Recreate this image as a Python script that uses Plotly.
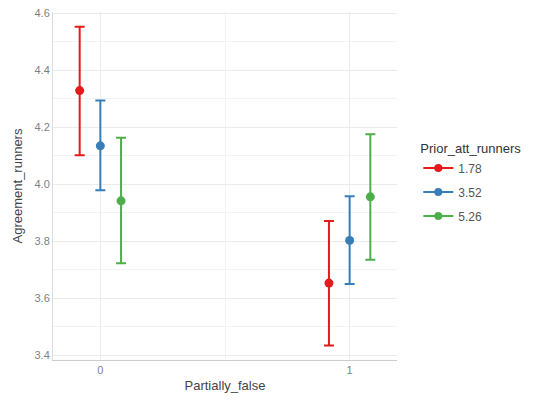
import plotly.graph_objects as go

groups = [0, 1]
levels = ["1.78", "3.52", "5.26"]
colors = ["#E41A1C", "#377EB8", "#4DAF4A"]
means = {"1.78": [4.329, 3.653], "3.52": [4.135, 3.803], "5.26": [3.942, 3.956]}
upper = {"1.78": [4.553, 3.871], "3.52": [4.294, 3.958], "5.26": [4.163, 4.176]}
lower = {"1.78": [4.102, 3.434], "3.52": [3.979, 3.650], "5.26": [3.723, 3.735]}
offsets = [-0.083, 0.0, 0.083]

fig = go.Figure()
for lev, col, off in zip(levels, colors, offsets):
    xs = [g + off for g in groups]
    m = means[lev]
    up = [u - v for u, v in zip(upper[lev], m)]
    dn = [v - l for l, v in zip(lower[lev], m)]
    fig.add_trace(go.Scatter(
        x=xs, y=m, mode="markers", showlegend=False, legendgroup=lev,
        marker=dict(color=col, size=9),
        error_y=dict(type="data", symmetric=False, array=up, arrayminus=dn,
                     color=col, thickness=2, width=5),
    ))
    fig.add_trace(go.Scatter(
        x=[None], y=[None], mode="lines+markers", name=lev, legendgroup=lev,
        marker=dict(color=col, size=8), line=dict(color=col, width=2),
    ))

# page body has an 8px margin, so the figure is 8px smaller and margins shifted
fig.update_layout(
    width=529, height=394,
    margin=dict(l=45, r=140, t=4, b=42, autoexpand=False),
    paper_bgcolor="white", plot_bgcolor="white",
    font=dict(family="Liberation Sans, Arial, sans-serif", color="#555555"),
    legend=dict(
        title=dict(text="Prior_att_runners", font=dict(size=13, color="#333333")),
        x=1.062, y=0.642, xanchor="left", yanchor="top",
        font=dict(size=12, color="#555555"), tracegroupgap=5,
    ),
)
fig.update_xaxes(
    range=[-0.19, 1.19], tickvals=[0, 1], ticktext=["0", "1"],
    showgrid=True, gridcolor="#EBEBEB", gridwidth=1,
    minor=dict(tick0=0.5, dtick=1, showgrid=True, gridcolor="#F3F3F3"),
    zeroline=False, showline=True, linecolor="#CCCCCC", linewidth=1,
    tickfont=dict(size=11, color="#7F7F7F"), automargin=False,
    title=dict(text="Partially_false", font=dict(size=13, color="#444444"), standoff=5),
    ticks="",
)
fig.update_yaxes(
    range=[3.383, 4.605], tickvals=[3.4, 3.6, 3.8, 4.0, 4.2, 4.4, 4.6],
    ticktext=["3.4", "3.6", "3.8", "4.0", "4.2", "4.4", "4.6"],
    showgrid=True, gridcolor="#EBEBEB", gridwidth=1,
    minor=dict(tick0=3.5, dtick=0.2, showgrid=True, gridcolor="#F3F3F3"),
    zeroline=False, showline=True, linecolor="#DDDDDD", linewidth=1,
    tickfont=dict(size=11, color="#7F7F7F"), automargin=False,
    ticklabeloverflow="allow",
    title=dict(text="Agreement_runners", font=dict(size=13, color="#444444"), standoff=8),
    ticks="",
)
fig.write_html("out.html")
